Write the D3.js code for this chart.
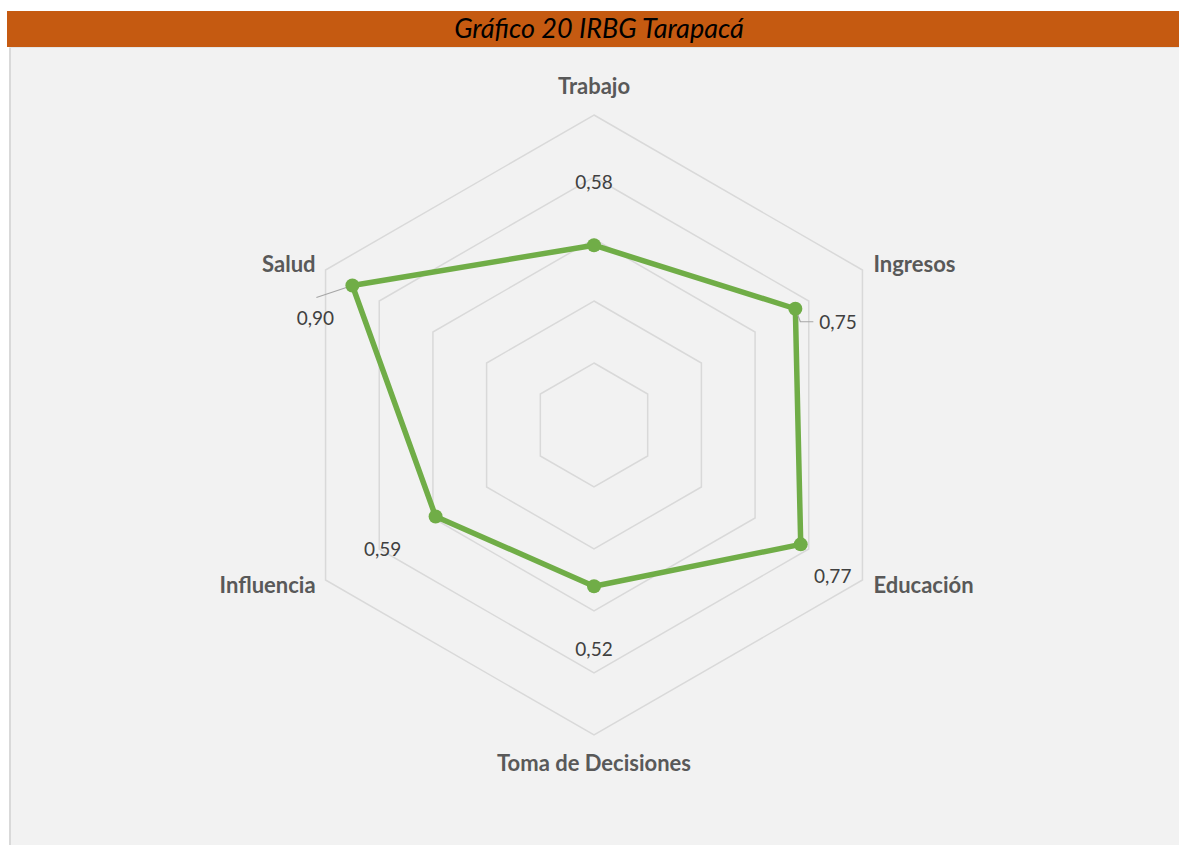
<!DOCTYPE html>
<html>
<head>
<meta charset="utf-8">
<script src="https://cdn.jsdelivr.net/npm/d3@7"></script>
<style>
  html, body { margin: 0; padding: 0; background: #ffffff; }
  svg { display: block; }
</style>
</head>
<body>
<div id="main"></div>
<script>
"use strict";

const titleText = "Gráfico 20 IRBG Tarapacá";
const categories = ["Trabajo", "Ingresos", "Educación", "Toma de Decisiones", "Influencia", "Salud"];
const values = [0.58, 0.75, 0.77, 0.52, 0.59, 0.90];
const valueLabels = ["0,58", "0,75", "0,77", "0,52", "0,59", "0,90"];
const gridLevels = [0.2, 0.4, 0.6, 0.8, 1.0];

// label placement relative to the point (style only)
const labelOffsets = [
    { dx: 0, dy: -61, anchor: "middle" },
    { dx: 24, dy: 15, anchor: "start" },
    { dx: 32, dy: 34, anchor: "middle" },
    { dx: 0, dy: 65, anchor: "middle" },
    { dx: -53, dy: 35, anchor: "middle" },
    { dx: -37, dy: 35, anchor: "middle" }
];
const catOffsets = [
    { dx: 0, dy: -27, anchor: "middle" },
    { dx: 11, dy: -4, anchor: "start" },
    { dx: 11, dy: 7, anchor: "start" },
    { dx: 0, dy: 30, anchor: "middle" },
    { dx: -10, dy: 7, anchor: "end" },
    { dx: -10, dy: -4, anchor: "end" }
];

const params = {
    width: 1179,
    height: 845,
    cx: 594,
    cy: 425,
    radius: 310
};

function main() {
    const svg = d3.select("#main").append("svg")
        .attr("width", params.width)
        .attr("height", params.height);

    // title bar
    svg.append("rect")
        .attr("x", 7).attr("y", 11)
        .attr("width", params.width - 7).attr("height", 36)
        .attr("fill", "#C55A11");
    svg.append("text")
        .attr("x", 599).attr("y", 38)
        .attr("text-anchor", "middle")
        .attr("font-family", "Lato, 'Open Sans', sans-serif")
        .attr("font-style", "italic")
        .attr("font-size", 27)
        .attr("fill", "#000")
        .text(titleText);

    // chart panel
    svg.append("rect")
        .attr("x", 9).attr("y", 47)
        .attr("width", params.width - 9).attr("height", params.height - 47)
        .attr("fill", "#F2F2F2");
    svg.append("line")
        .attr("x1", 10).attr("x2", 10).attr("y1", 47).attr("y2", params.height)
        .attr("stroke", "#D9D9D9").attr("stroke-width", 2);
    svg.append("line")
        .attr("x1", 9).attr("x2", params.width).attr("y1", 47.5).attr("y2", 47.5)
        .attr("stroke", "#E4E4E4").attr("stroke-width", 1);

    const r = d3.scaleLinear().domain([0, 1]).range([0, params.radius]);
    const angle = d3.scaleBand().domain(categories).range([0, 2 * Math.PI]).paddingInner(0).paddingOuter(0);

    const g = svg.append("g").attr("transform", `translate(${params.cx},${params.cy})`);
    const pt = (cat, v) => {
        const a = angle(cat);
        return [r(v) * Math.sin(a), -r(v) * Math.cos(a)];
    };

    // grid hexagons
    const line = d3.line().curve(d3.curveLinearClosed);
    g.selectAll(".grid").data(gridLevels).join("path")
        .attr("class", "grid")
        .attr("d", lv => line(categories.map(c => pt(c, lv))))
        .attr("fill", "none")
        .attr("stroke", "#D9D9D9")
        .attr("stroke-width", 1.5);

    // category labels
    g.selectAll(".cat").data(categories).join("text")
        .attr("class", "cat")
        .attr("x", (c, i) => pt(c, 1)[0] + catOffsets[i].dx)
        .attr("y", (c, i) => pt(c, 1)[1] + catOffsets[i].dy)
        .attr("text-anchor", (c, i) => catOffsets[i].anchor)
        .attr("dominant-baseline", "middle")
        .attr("font-family", "Lato, 'Open Sans', sans-serif")
        .attr("font-weight", "bold")
        .attr("font-size", 22)
        .attr("fill", "#595959")
        .text(c => c);

    // series
    const pts = categories.map((c, i) => pt(c, values[i]));
    g.append("path")
        .attr("d", line(pts))
        .attr("fill", "none")
        .attr("stroke", "#70AD47")
        .attr("stroke-width", 5.5)
        .attr("stroke-linejoin", "round");

    // leader lines for Ingresos and Salud
    g.append("path")
        .attr("d", `M${pts[1][0]},${pts[1][1]} L${pts[1][0] + 5},${pts[1][1] + 13} L${pts[1][0] + 18},${pts[1][1] + 13}`)
        .attr("fill", "none").attr("stroke", "#A6A6A6").attr("stroke-width", 1.2);
    g.append("path")
        .attr("d", `M${pts[5][0]},${pts[5][1]} L${pts[5][0] - 36},${pts[5][1] + 12}`)
        .attr("fill", "none").attr("stroke", "#A6A6A6").attr("stroke-width", 1.2);

    g.selectAll(".dot").data(pts).join("circle")
        .attr("class", "dot")
        .attr("cx", d => d[0]).attr("cy", d => d[1])
        .attr("r", 7)
        .attr("fill", "#70AD47");

    // value labels
    g.selectAll(".val").data(valueLabels).join("text")
        .attr("class", "val")
        .attr("x", (t, i) => pts[i][0] + labelOffsets[i].dx)
        .attr("y", (t, i) => pts[i][1] + labelOffsets[i].dy)
        .attr("text-anchor", (t, i) => labelOffsets[i].anchor)
        .attr("dominant-baseline", "middle")
        .attr("font-family", "Lato, 'Open Sans', sans-serif")
        .attr("font-size", 19)
        .attr("fill", "#404040")
        .text(t => t);
}

main();
</script>
</body>
</html>
